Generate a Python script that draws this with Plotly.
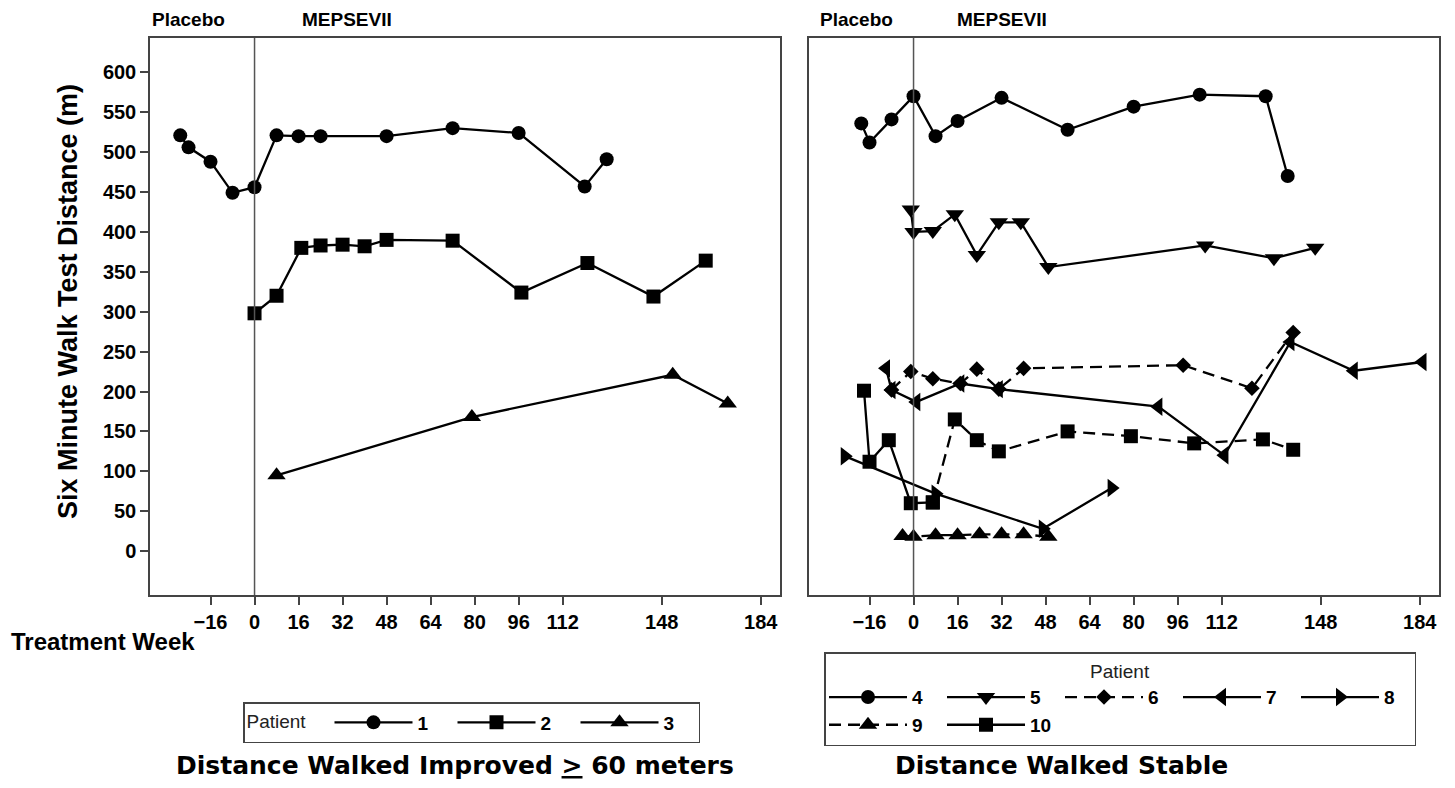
import plotly.graph_objects as go

PAGE_W, PAGE_H = 1455, 788
OFF = 8  # browser body margin
W, H = PAGE_W - 2 * OFF, PAGE_H - 2 * OFF

week_ticks = [-16, 0, 16, 32, 48, 64, 80, 96, 112, 148, 184]
y_ticks = [0, 50, 100, 150, 200, 250, 300, 350, 400, 450, 500, 550, 600]

# Left panel: distance walked improved >= 60 m
p1_weeks = [-27, -24, -16, -8, 0, 8, 16, 24, 48, 72, 96, 120, 128]
p1_vals = [521, 506, 488, 449, 456, 521, 520, 520, 520, 530, 524, 457, 491]

p2_weeks = [0, 8, 17, 24, 32, 40, 48, 72, 97, 121, 145, 164]
p2_vals = [298, 320, 380, 383, 384, 382, 390, 389, 324, 361, 319, 364]

p3_weeks = [8, 79, 152, 172]
p3_vals = [95, 168, 221, 185]

# Right panel: distance walked stable
p4_weeks = [-19, -16, -8, 0, 8, 16, 32, 56, 80, 104, 128, 136]
p4_vals = [536, 512, 541, 570, 520, 539, 568, 528, 557, 572, 570, 470]

p5_weeks = [-1, 0, 7, 15, 23, 31, 39, 49, 106, 131, 146]
p5_vals = [428, 400, 401, 422, 371, 412, 412, 356, 383, 367, 380]

p6_weeks = [-8, -1, 7, 17, 23, 31, 40, 98, 123, 138]
p6_vals = [202, 225, 216, 210, 228, 203, 229, 233, 204, 274]

p7_weeks = [-10, -8, 1, 17, 31, 89, 113, 137, 160, 185]
p7_vals = [229, 202, 187, 210, 203, 181, 120, 262, 226, 237]

p8_weeks = [-25, 8, 47, 72]
p8_vals = [119, 72, 28, 79]

p9_weeks = [-4, 0, 8, 16, 24, 32, 40, 49]
p9_vals = [19, 18, 20, 20, 21, 21, 21, 18]

p10_weeks = [-18, -16, -9, -1, 7, 15, 23, 31, 56, 79, 102, 127, 138]
p10_vals = [201, 112, 139, 60, 61, 165, 139, 125, 150, 144, 135, 140, 127]
p10_solid_end = 5  # first segment drawn solid, remainder dashed

FONT = "Liberation Sans, Arial, sans-serif"
WIDE_FONT = "DejaVu Sans, Liberation Sans, sans-serif"
BLACK = "#000000"
DASH = "12px,7px"


def px_x(p):
    return (p - OFF) / W


def px_y(p):
    return 1 - (p - OFF) / H


fig = go.Figure()


def add(weeks, vals, name, symbol, size, dash="solid", axis="1", legend="legend",
        group=None, showlegend=True):
    fig.add_trace(go.Scatter(
        x=weeks, y=vals, name=name, mode="lines+markers",
        line=dict(color=BLACK, width=2.3, dash=dash),
        marker=dict(symbol=symbol, size=size, color=BLACK),
        xaxis="x" if axis == "1" else "x2",
        yaxis="y" if axis == "1" else "y2",
        legend=legend, legendgroup=group, showlegend=showlegend,
    ))


add(p1_weeks, p1_vals, "1", "circle", 14)
add(p2_weeks, p2_vals, "2", "square", 14)
add(p3_weeks, p3_vals, "3", "triangle-up", 16)

add(p4_weeks, p4_vals, "4", "circle", 14, axis="2", legend="legend2", group="g1")
add(p9_weeks, p9_vals, "9", "triangle-up", 16, dash=DASH, axis="2", legend="legend2", group="g1")
add(p5_weeks, p5_vals, "5", "triangle-down", 16, axis="2", legend="legend2", group="g2")
add(p10_weeks[:p10_solid_end], p10_vals[:p10_solid_end], "10", "square", 14, axis="2",
    legend="legend2", group="g2")
add(p10_weeks[p10_solid_end - 1:], p10_vals[p10_solid_end - 1:], "10", "square", 14,
    dash=DASH, axis="2", legend="legend2", group="g2", showlegend=False)
add(p6_weeks, p6_vals, "6", "diamond", 12, dash=DASH, axis="2", legend="legend2", group="g3")
add(p7_weeks, p7_vals, "7", "triangle-left", 16, axis="2", legend="legend2", group="g4")
add(p8_weeks, p8_vals, "8", "triangle-right", 16, axis="2", legend="legend2", group="g5")

xr = [-38, 191]
yr = [-55, 643]
ydom = [px_y(595), px_y(38)]

common_x = dict(
    range=xr, tickmode="array", tickvals=week_ticks, ticks="outside", ticklen=8,
    tickwidth=1.5, tickcolor="#444", showline=True, linecolor="#444", linewidth=1.5,
    mirror=True, showgrid=False, zeroline=False,
    tickfont=dict(family=FONT, size=20, color=BLACK, weight="bold"),
)

fig.update_layout(
    width=W, height=H,
    margin=dict(l=0, r=0, t=0, b=0),
    paper_bgcolor="white", plot_bgcolor="white",
    font=dict(family=FONT, color=BLACK),
    xaxis=dict(domain=[px_x(150), px_x(780)], anchor="y", **common_x),
    xaxis2=dict(domain=[px_x(809), px_x(1439)], anchor="y2", **common_x),
    yaxis=dict(
        domain=ydom, range=yr, tickmode="array", tickvals=y_ticks, ticks="outside",
        ticklen=8, tickwidth=1.5, tickcolor="#444", showline=True, linecolor="#444",
        linewidth=1.5, mirror=True, showgrid=False, zeroline=False, anchor="x",
        tickfont=dict(family=FONT, size=20, color=BLACK, weight="bold"),
    ),
    yaxis2=dict(
        domain=ydom, range=yr, showticklabels=False, ticks="", showline=True,
        linecolor="#444", linewidth=1.5, mirror=True, showgrid=False, zeroline=False,
        anchor="x2",
    ),
    legend=dict(
        orientation="h", x=px_x(243), y=px_y(702), xanchor="left", yanchor="top",
        bordercolor="#444", borderwidth=1.5, bgcolor="white",
        font=dict(family=FONT, size=19, color=BLACK, weight="bold"),
        title=dict(text="Patient&nbsp;&nbsp;&nbsp;", side="left",
                   font=dict(family=FONT, size=19, color="#222", weight="normal")),
        itemwidth=78, traceorder="normal",
        entrywidth=30, entrywidthmode="pixels",
    ),
    legend2=dict(
        orientation="h", x=px_x(824), y=px_y(652), xanchor="left", yanchor="top",
        bordercolor="#444", borderwidth=1.5, bgcolor="white",
        font=dict(family=FONT, size=19, color=BLACK, weight="bold"),
        title=dict(text="Patient", side="top center",
                   font=dict(family=FONT, size=19, color="#222", weight="normal")),
        itemwidth=78, traceorder="grouped", tracegroupgap=0,
        entrywidth=25, entrywidthmode="pixels",
    ),
    showlegend=True,
)

# vertical reference line at week 0 on each panel
for xa, ya in (("x", "y"), ("x2", "y2")):
    fig.add_shape(type="line", xref=xa, yref=ya + " domain", x0=0, x1=0, y0=0, y1=1,
                  line=dict(color="#555", width=1.5))

annots = [
    dict(text="<b>Placebo</b>", x=px_x(150), y=px_y(19), xanchor="left", size=19, f=FONT),
    dict(text="<b>MEPSEVII</b>", x=px_x(300), y=px_y(19), xanchor="left", size=19, f=FONT),
    dict(text="<b>Placebo</b>", x=px_x(818), y=px_y(19), xanchor="left", size=19, f=FONT),
    dict(text="<b>MEPSEVII</b>", x=px_x(955), y=px_y(19), xanchor="left", size=19, f=FONT),
    dict(text="<b>Treatment Week</b>", x=px_x(9), y=px_y(641), xanchor="left", size=24, f=FONT),
    dict(text="<b>Distance Walked Improved <u>&gt;</u> 60 meters</b>", x=px_x(455),
         y=px_y(765), xanchor="center", size=25, f=WIDE_FONT),
    dict(text="<b>Distance Walked Stable</b>", x=px_x(1061), y=px_y(765),
         xanchor="center", size=25, f=WIDE_FONT),
]
for a in annots:
    fig.add_annotation(text=a["text"], x=a["x"], y=a["y"], xref="paper", yref="paper",
                       xanchor=a["xanchor"], yanchor="middle", showarrow=False,
                       font=dict(family=a["f"], size=a["size"], color=BLACK))

fig.add_annotation(text="<b>Six Minute Walk Test Distance (m)</b>", x=px_x(68),
                   y=px_y(302), xref="paper", yref="paper", textangle=-90,
                   showarrow=False, xanchor="center", yanchor="middle",
                   font=dict(family=FONT, size=27, color=BLACK))

fig.write_html("out.html")
